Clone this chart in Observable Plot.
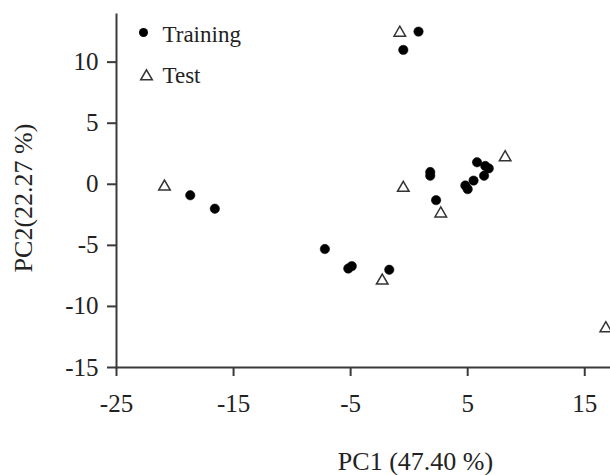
<!DOCTYPE html>
<html>
<head>
<meta charset="utf-8">
<script src="https://cdn.jsdelivr.net/npm/d3@7"></script>
<script src="https://cdn.jsdelivr.net/npm/@observablehq/plot@0.6"></script>
<style>
  html, body { margin: 0; padding: 0; background: #fff; }
  #chart svg { display: block; }
</style>
</head>
<body>
<div id="chart"></div>
<script>
// Training set scores
const trainPC1 = [-18.7, -16.6, -7.2, -5.2, -4.9, -1.7, -0.5, 0.8, 1.8, 1.8, 2.3, 5.8, 6.5, 6.8, 6.4, 5.5, 4.8, 5.0];
const trainPC2 = [-0.9, -2.0, -5.3, -6.9, -6.7, -7.0, 11.0, 12.5, 1.0, 0.7, -1.3, 1.8, 1.5, 1.3, 0.7, 0.3, -0.1, -0.4];
// Test set scores
const testPC1 = [-20.9, -2.3, -0.8, -0.5, 2.7, 8.2, 16.8];
const testPC2 = [-0.2, -7.9, 12.4, -0.3, -2.4, 2.2, -11.8];
// Axis ticks
const xTicks = [-25, -15, -5, 5, 15];
const yTicks = [-15, -10, -5, 0, 5, 10];
const xLabel = "PC1 (47.40 %)";
const yLabel = "PC2(22.27 %)";
const seriesNames = ["Training", "Test"];

const training = trainPC1.map((x, i) => ({x, y: trainPC2[i]}));
const test = testPC1.map((x, i) => ({x, y: testPC2[i]}));

const ink = "#222";
const axisInk = "#3a3a3a";
const font = "'Liberation Serif', 'Times New Roman', serif";

const chart = Plot.plot({
  width: 610,
  height: 475,
  marginLeft: 116,
  marginRight: 0,
  marginTop: 14,
  marginBottom: 108,
  style: {fontFamily: font, color: ink, background: "#fff"},
  x: {domain: [-25, 17.2]},
  y: {domain: [-15, 13.9]},
  marks: [
    Plot.frame({anchor: "left", stroke: axisInk, strokeWidth: 2}),
    Plot.frame({anchor: "bottom", stroke: axisInk, strokeWidth: 2}),
    Plot.axisX({ticks: xTicks, tickSize: 9, tickPadding: 18, fontSize: 25, stroke: axisInk, strokeWidth: 2, fill: ink, label: null, tickFormat: d => String(d)}),
    Plot.axisY({ticks: yTicks, tickSize: 9, tickPadding: 9, fontSize: 25, stroke: axisInk, strokeWidth: 2, fill: ink, label: null, tickFormat: d => String(d)}),
    Plot.dot(training, {x: "x", y: "y", r: 4.7, fill: "#000", stroke: "#000", strokeWidth: 0.5}),
    Plot.dot(test, {x: "x", y: "y", r: 4.3, symbol: "triangle", fill: "#fff", stroke: "#333", strokeWidth: 1.5}),
    // legend
    Plot.dot([seriesNames[0]], {frameAnchor: "top-left", dx: 27, dy: 18, r: 4.5, fill: "#000"}),
    Plot.text([seriesNames[0]], {frameAnchor: "top-left", dx: 46, dy: 20, lineAnchor: "middle", text: d => d, textAnchor: "start", fontSize: 23, fill: ink}),
    Plot.dot([seriesNames[1]], {frameAnchor: "top-left", dx: 30, dy: 62, r: 4.3, symbol: "triangle", fill: "#fff", stroke: "#333", strokeWidth: 1.5}),
    Plot.text([seriesNames[1]], {frameAnchor: "top-left", dx: 46, dy: 61, lineAnchor: "middle", text: d => d, textAnchor: "start", fontSize: 23, fill: ink}),
    // axis titles
    Plot.text([xLabel], {frameAnchor: "bottom", dx: 52, dy: 94, lineAnchor: "middle", textAnchor: "middle", text: d => d, fontSize: 26, fill: ink, style: "letter-spacing: 0.6px"}),
    Plot.text([yLabel], {frameAnchor: "left", dx: -93, dy: 7, rotate: -90, lineAnchor: "middle", textAnchor: "middle", text: d => d, fontSize: 26, fill: ink, style: "letter-spacing: 0.6px"})
  ]
});
document.getElementById("chart").appendChild(chart);
</script>
</body>
</html>
